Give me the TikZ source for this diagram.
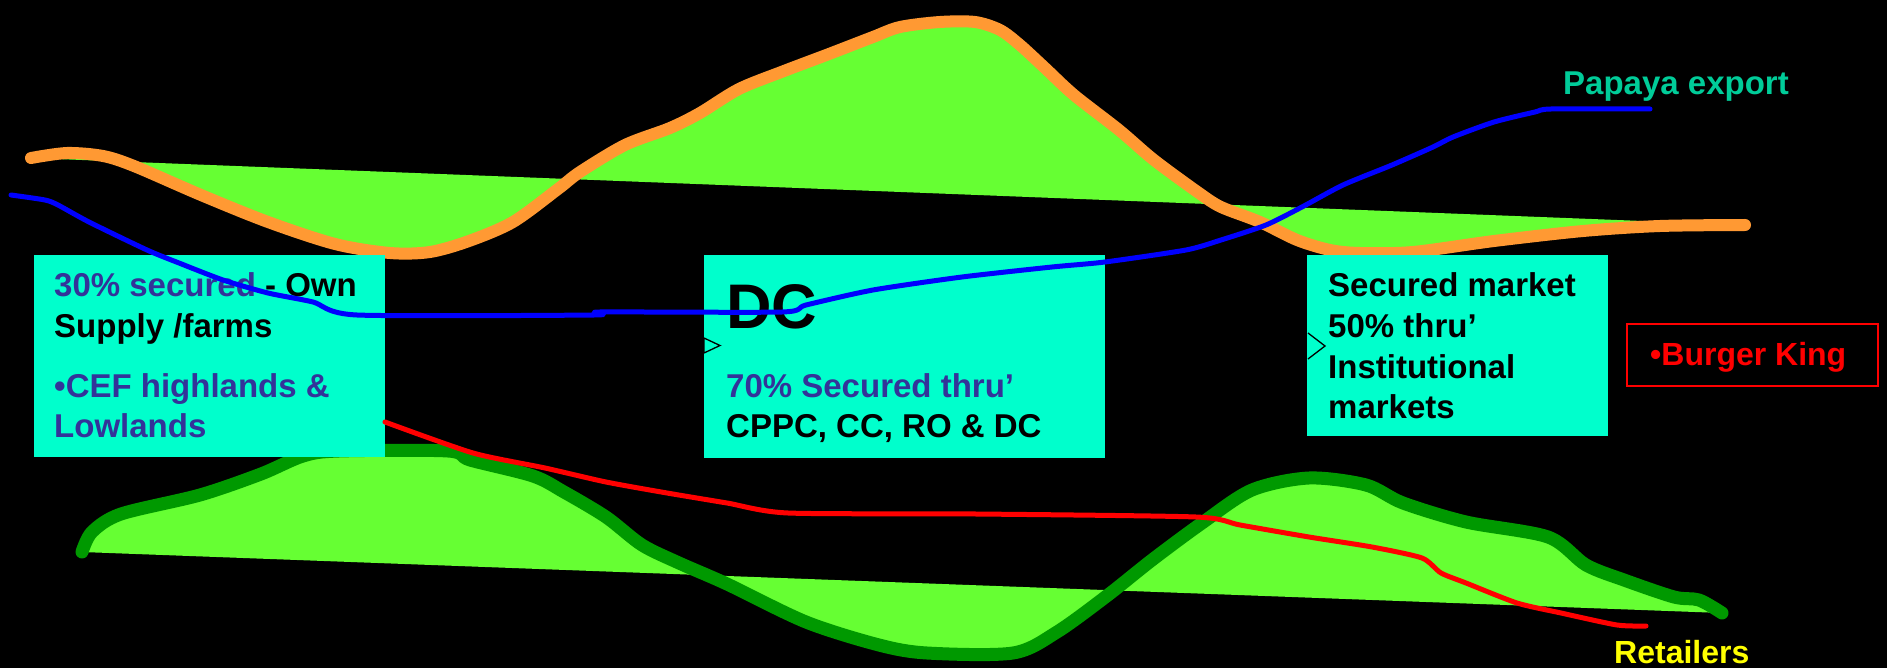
\documentclass[tikz,border=0pt]{standalone}
\usepackage{fontspec}
\setmainfont{Liberation Sans}
\definecolor{boxcyan}{RGB}{0,255,204}
\definecolor{lgreen}{RGB}{102,255,51}
\definecolor{dgreen}{RGB}{0,153,0}
\definecolor{orangeline}{RGB}{255,153,51}
\definecolor{purpletext}{RGB}{51,51,153}
\definecolor{papaya}{RGB}{0,204,153}
\definecolor{bluel}{RGB}{0,0,255}
\definecolor{redl}{RGB}{255,0,0}
\definecolor{yellowt}{RGB}{255,255,0}
\tikzset{
  box/.style={fill=boxcyan, draw=none, anchor=north west, inner sep=0pt, outer sep=0pt},
  txt/.style={anchor=base west, inner sep=0pt, font=\fontsize{33}{40}\selectfont\bfseries},
  band/.style={line cap=round, line join=round},
  marker/.style={draw=black, line width=1.3pt, line join=miter}
}
\begin{document}
\begin{tikzpicture}[x=1pt,y=-1pt]
\useasboundingbox (0,0) rectangle (1887,668);
\fill[black] (0,0) rectangle (1887,668);

% upper freeform
\fill[lgreen] plot[smooth,tension=0.5] coordinates {(31,158) (67,153) (103,156) (134,166) (201,195) (268,222) (335,244) (390,253) (430,252) (469,241) (513,222) (558,189) (580,172) (625,145) (670,128) (700,113) (739,89) (784,71) (829,54) (873,37) (900,27) (940,22) (975,22) (1000,30) (1020,45) (1045,68) (1074,95) (1119,130) (1154,160) (1199,193) (1221,207) (1260,222) (1297,240) (1330,250) (1360,253) (1413,252) (1494,241) (1583,231) (1660,226) (1745,225)} -- cycle;
\draw[orangeline, line width=12pt, band] plot[smooth,tension=0.5] coordinates {(31,158) (67,153) (103,156) (134,166) (201,195) (268,222) (335,244) (390,253) (430,252) (469,241) (513,222) (558,189) (580,172) (625,145) (670,128) (700,113) (739,89) (784,71) (829,54) (873,37) (900,27) (940,22) (975,22) (1000,30) (1020,45) (1045,68) (1074,95) (1119,130) (1154,160) (1199,193) (1221,207) (1260,222) (1297,240) (1330,250) (1360,253) (1413,252) (1494,241) (1583,231) (1660,226) (1745,225)};

% lower freeform
\fill[lgreen] plot[smooth,tension=0.5] coordinates {(82,552) (92,532) (121,514) (200,495) (261,474) (303,456) (339,451) (448,451) (470,460) (533,476) (564,492) (606,517) (642,545) (679,563) (727,584) (806,622) (879,645) (927,653) (1013,653) (1057,632) (1108,595) (1152,560) (1202,523) (1252,490) (1309,478) (1366,485) (1403,503) (1466,522) (1548,537) (1586,565) (1624,580) (1674,597) (1699,600) (1722,613)} -- cycle;
\draw[dgreen, line width=13pt, band] plot[smooth,tension=0.5] coordinates {(82,552) (92,532) (121,514) (200,495) (261,474) (303,456) (339,451) (448,451) (470,460) (533,476) (564,492) (606,517) (642,545) (679,563) (727,584) (806,622) (879,645) (927,653) (1013,653) (1057,632) (1108,595) (1152,560) (1202,523) (1252,490) (1309,478) (1366,485) (1403,503) (1466,522) (1548,537) (1586,565) (1624,580) (1674,597) (1699,600) (1722,613)};

% boxes
\node[box, minimum width=351pt, minimum height=202pt] (own) at (34,255) {};
\node[box, minimum width=401pt, minimum height=203pt] (dc) at (704,255) {};
\node[box, minimum width=301pt, minimum height=181pt] (inst) at (1307,255) {};
\node[draw=redl, line width=2pt, fill=black, anchor=north west, minimum width=251pt, minimum height=62pt, inner sep=0pt] (bk) at (1626,323) {};

% box texts
\node[txt] (own1) at (54,297) {\textcolor{purpletext}{30\% secured} - Own};
\node[txt] (own2) at (54,337) {Supply /farms};
\node[txt, text=purpletext] (own3) at (54,397) {•CEF highlands \&};
\node[txt, text=purpletext] (own4) at (54,437) {Lowlands};

\node[anchor=base west, inner sep=0pt, font=\fontsize{63}{70}\selectfont\bfseries] (dc0) at (726,328) {DC};
\node[txt, text=purpletext] (dc1) at (726,397) {70\% Secured thru’};
\node[txt] (dc2) at (726,437) {CPPC, CC, RO \& DC};

\node[txt] (in1) at (1328,297) {Secured market};
\node[txt] (in2) at (1328,337.5) {50\% thru’};
\node[txt] (in3) at (1328,378) {Institutional};
\node[txt] (in4) at (1328,418) {markets};

\node[txt, text=redl, font=\fontsize{32}{38}\selectfont\bfseries] (bkt) at (1650,365) {•Burger King};
\node[txt, text=papaya] (pap) at (1563,95) {Papaya export};
\node[txt, text=yellowt, font=\fontsize{32}{38}\selectfont\bfseries] (ret) at (1614,663) {Retailers};

% small markers
\draw[marker] (704,338) -- (720,345.5) -- (704,353) -- cycle;
\draw[marker] (1308,333) -- (1325,346) -- (1308,359);

% blue line
\draw[bluel, line width=5pt, band] plot[smooth,tension=0.4] coordinates {(11,195) (45,200) (58,205) (89,222) (147,250) (179,263) (223,280) (268,293) (313,302) (357,315) (594,315) (600,312) (782,312) (806,305) (873,290) (962,277) (1052,267) (1105,262) (1186,250) (1221,240) (1266,225) (1302,207) (1343,185) (1392,165) (1433,147) (1453,137) (1494,122) (1535,112) (1551,109) (1650,109)};

% red line
\draw[redl, line width=5pt, band] plot[smooth,tension=0.4] coordinates {(385,422) (473,453) (545,468) (606,482) (667,493) (727,503) (788,513) (976,514) (1196,517) (1240,525) (1309,537) (1372,547) (1422,558) (1441,573) (1466,583) (1517,603) (1561,613) (1617,625) (1646,626)};
\end{tikzpicture}
\end{document}
